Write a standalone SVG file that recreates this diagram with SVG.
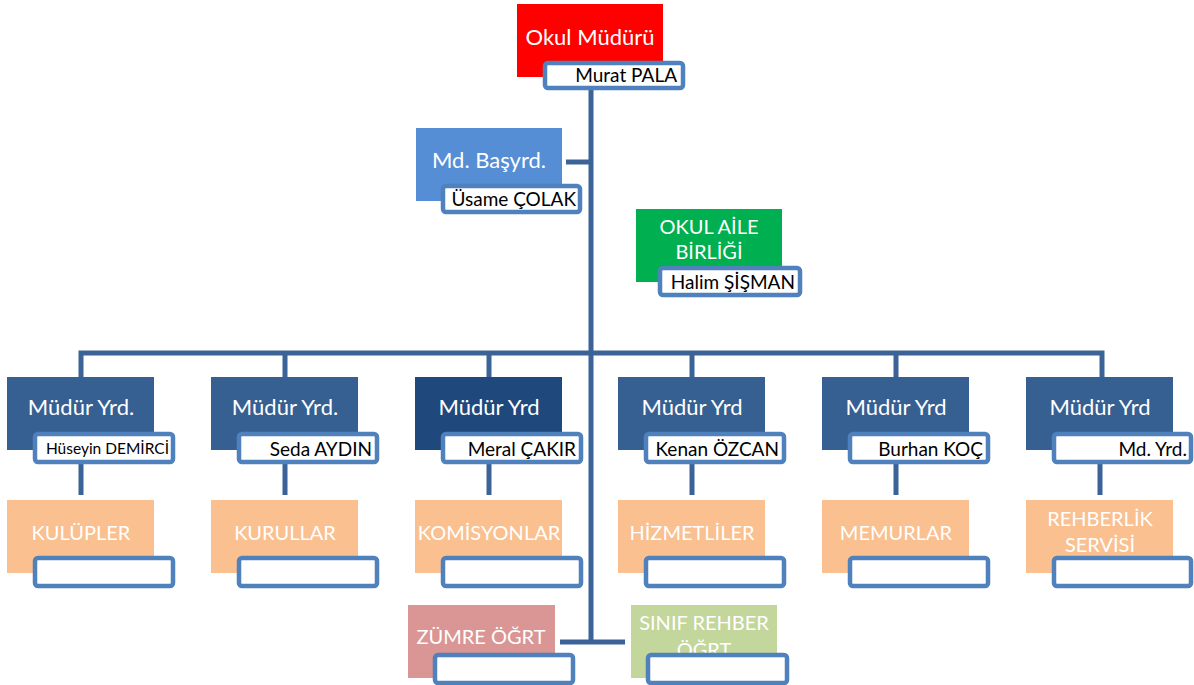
<svg xmlns="http://www.w3.org/2000/svg" width="1194" height="685" viewBox="0 0 1194 685">
<style>
.t{font-family:Lato,"Open Sans","Noto Sans",sans-serif;fill:#fff;font-size:20px;text-anchor:middle}
.tl{font-size:22px}
.n{font-family:Lato,"Open Sans","Noto Sans",sans-serif;fill:#000;font-size:19px;text-anchor:end}
.nb{fill:#fff;stroke:#4F81BD;stroke-width:4.5}
.c{stroke:#3B6397;stroke-width:5;fill:none}
.y{fill:#376092}
.o{fill:#FAC090}
</style>
<defs>
<linearGradient id="g" x1="0" y1="0" x2="0" y2="1"><stop offset="0" stop-color="#eef1f6"/><stop offset="0.45" stop-color="#ffffff"/></linearGradient>
<linearGradient id="go" x1="0" y1="0" x2="0" y2="1"><stop offset="0" stop-color="#fdf4ec"/><stop offset="1" stop-color="#fefbf7"/></linearGradient>
</defs>
<g id="connectors">
<path class="c" d="M591 89V642"/>
<path class="c" d="M566 162H591"/>
<path class="c" d="M81 377V353H1102V377"/>
<path class="c" d="M285 353V377M489 353V377M692 353V377M896 353V377"/>
<path class="c" d="M81 463V495M285 463V495M489 463V495M692 463V495M896 463V495M1100 463V495"/>
<path class="c" d="M560 642H625"/>
</g>
<g id="okul-muduru">
<rect x="517" y="4" width="146" height="73" fill="#FF0000"/>
<text class="t tl" x="590" y="45">Okul Müdürü</text>
<rect class="nb" x="545" y="63" width="138" height="25" rx="3" fill="url(#g)"/>
<text class="n" x="677" y="82">Murat PALA</text>
</g>
<g id="md-basyrd">
<rect x="416" y="128" width="146" height="73" fill="#558ED5"/>
<text class="t tl" x="489" y="168">Md. Başyrd.</text>
<rect class="nb" x="443" y="186" width="137" height="26" rx="3"/>
<text class="n" x="576" y="206">Üsame ÇOLAK</text>
</g>
<g id="okul-aile">
<rect x="636" y="209" width="146" height="73" fill="#00B050"/>
<text class="t" x="709" y="234">OKUL AİLE</text>
<text class="t" x="709" y="259">BİRLİĞİ</text>
<rect class="nb" x="660" y="268" width="140" height="27" rx="3"/>
<text class="n" x="795" y="289">Halim ŞİŞMAN</text>
</g>
<g id="yrd1">
<rect class="y" x="7" y="377" width="147" height="73"/>
<text class="t tl" x="81" y="415">Müdür Yrd.</text>
<rect class="nb" x="35" y="434" width="138" height="28" rx="3" fill="url(#g)"/>
<text class="n" x="169" y="454" style="font-size:15.5px">Hüseyin DEMİRCİ</text>
</g>
<g id="yrd2">
<rect class="y" x="211" y="377" width="147" height="73"/>
<text class="t tl" x="285" y="415">Müdür Yrd.</text>
<rect class="nb" x="239" y="434" width="138" height="28" rx="3" fill="url(#g)"/>
<text class="n" x="372" y="456">Seda AYDIN</text>
</g>
<g id="yrd3">
<rect x="415" y="377" width="147" height="73" fill="#1F487C"/>
<text class="t tl" x="489" y="415">Müdür Yrd</text>
<rect class="nb" x="443" y="434" width="138" height="28" rx="3" fill="url(#g)"/>
<text class="n" x="576" y="456">Meral ÇAKIR</text>
</g>
<g id="yrd4">
<rect class="y" x="618" y="377" width="147" height="73"/>
<text class="t tl" x="692" y="415">Müdür Yrd</text>
<rect class="nb" x="646" y="434" width="138" height="28" rx="3" fill="url(#g)"/>
<text class="n" x="779" y="456">Kenan ÖZCAN</text>
</g>
<g id="yrd5">
<rect class="y" x="822" y="377" width="147" height="73"/>
<text class="t tl" x="896" y="415">Müdür Yrd</text>
<rect class="nb" x="850" y="434" width="138" height="28" rx="3" fill="url(#g)"/>
<text class="n" x="983" y="456">Burhan KOÇ</text>
</g>
<g id="yrd6">
<rect class="y" x="1026" y="377" width="147" height="73"/>
<text class="t tl" x="1100" y="415">Müdür Yrd</text>
<rect class="nb" x="1054" y="434" width="137" height="28" rx="3" fill="url(#g)"/>
<text class="n" x="1187" y="456">Md. Yrd.</text>
</g>
<g id="kulupler">
<rect class="o" x="7" y="500" width="147" height="73"/>
<text class="t" x="81" y="540">KULÜPLER</text>
<rect class="nb" x="35" y="558" width="138" height="28" rx="3" fill="url(#go)"/>
</g>
<g id="kurullar">
<rect class="o" x="211" y="500" width="147" height="73"/>
<text class="t" x="285" y="540">KURULLAR</text>
<rect class="nb" x="239" y="558" width="138" height="28" rx="3" fill="url(#go)"/>
</g>
<g id="komisyonlar">
<rect class="o" x="415" y="500" width="147" height="73"/>
<text class="t" x="489" y="540">KOMİSYONLAR</text>
<rect class="nb" x="443" y="558" width="138" height="28" rx="3" fill="url(#go)"/>
</g>
<g id="hizmetliler">
<rect class="o" x="618" y="500" width="147" height="73"/>
<text class="t" x="692" y="540">HİZMETLİLER</text>
<rect class="nb" x="646" y="558" width="138" height="28" rx="3" fill="url(#go)"/>
</g>
<g id="memurlar">
<rect class="o" x="822" y="500" width="147" height="73"/>
<text class="t" x="896" y="540">MEMURLAR</text>
<rect class="nb" x="850" y="558" width="138" height="28" rx="3" fill="url(#go)"/>
</g>
<g id="rehberlik">
<rect class="o" x="1026" y="500" width="147" height="73"/>
<text class="t" x="1100" y="526">REHBERLİK</text>
<text class="t" x="1100" y="552">SERVİSİ</text>
<rect class="nb" x="1054" y="558" width="137" height="28" rx="3" fill="url(#go)"/>
</g>
<g id="zumre">
<rect x="408" y="605" width="147" height="73" fill="#D99694"/>
<text class="t" x="481" y="644">ZÜMRE ÖĞRT</text>
<rect class="nb" x="435" y="655" width="138" height="28" rx="3" fill="#f9f2f2"/>
</g>
<g id="sinif-rehber">
<rect x="631" y="605" width="146" height="73" fill="#C3D69B"/>
<text class="t" x="704" y="630">SINIF REHBER</text>
<text class="t" x="704" y="657">ÖĞRT</text>
<rect class="nb" x="648" y="655" width="139" height="28" rx="3" fill="#f7faf2"/>
</g>
</svg>
